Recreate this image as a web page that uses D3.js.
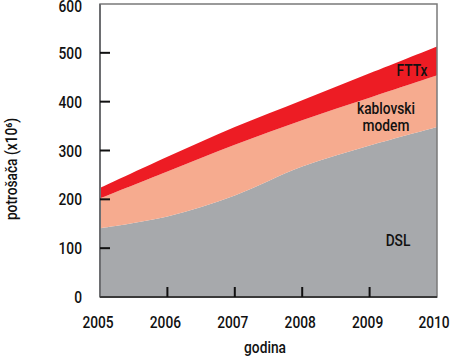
<!DOCTYPE html>
<html><head><meta charset="utf-8">
<script src="https://cdn.jsdelivr.net/npm/d3@7"></script>
<style>
body{margin:0;background:#fff;}
text{font-family:Roboto,"Liberation Sans",Arial,sans-serif;font-weight:500;fill:#111;}
</style></head>
<body><svg id="c" width="450" height="357"></svg>
<script>
const years = [2005, 2006, 2007, 2008, 2009, 2010];
const dsl = [141, 165, 208, 267, 310, 348];
const cable = [61, 92, 104, 95, 98, 106];
const fttx = [21, 30, 36, 41, 50, 59];
const seriesNames = ["DSL", "kablovski modem", "FTTx"];
const colors = ["#a7a9ac", "#f6ab8f", "#ed1c24"];
const yTicks = [0, 100, 200, 300, 400, 500, 600];
const xTicks = [2005, 2006, 2007, 2008, 2009, 2010];

const svg = d3.select("#c");
const L = 100, R = 437, T = 4, B = 297;
const SX = 0.86, FS = 16;
const x = d3.scaleLinear().domain([2005, 2010]).range([L, R]);
const y = d3.scaleLinear().domain([0, 600]).range([B, T]);

function txt(px, py, s, anchor, rot) {
  const g = svg.append("g").attr("transform", `translate(${px},${py})` + (rot ? ` rotate(${rot})` : "") + ` scale(${SX},1)`);
  return g.append("text").attr("text-anchor", anchor || "middle").attr("font-size", FS).text(s);
}

const rows = years.map((yr, i) => ({year: yr, DSL: dsl[i], "kablovski modem": cable[i], FTTx: fttx[i]}));
const stack = d3.stack().keys(seriesNames)(rows);
const area = d3.area().x(d => x(d.data.year)).y0(d => y(d[0])).y1(d => y(d[1])).curve(d3.curveCatmullRom.alpha(0.5));

svg.append("g").selectAll("path").data(stack).join("path")
  .attr("d", area).attr("fill", (d, i) => colors[i]);

// frame
svg.append("rect").attr("x", L).attr("y", T).attr("width", R - L).attr("height", B - T)
  .attr("fill", "none").attr("stroke", "#7a7a7a").attr("stroke-width", 1.5);
svg.append("line").attr("x1", L).attr("x2", L).attr("y1", T).attr("y2", B).attr("stroke", "#6d6e71").attr("stroke-width", 2);
svg.append("line").attr("x1", L).attr("x2", R).attr("y1", B).attr("y2", B).attr("stroke", "#3a3a3a").attr("stroke-width", 2);

// ticks
svg.append("g").selectAll("line").data(yTicks.filter(v => v > 0 && v < 600)).join("line")
  .attr("x1", L).attr("x2", L + 10).attr("y1", d => y(d)).attr("y2", d => y(d))
  .attr("stroke", "#111").attr("stroke-width", 2);
svg.append("g").selectAll("line").data(xTicks.filter(v => v > 2005 && v < 2010)).join("line")
  .attr("x1", d => x(d)).attr("x2", d => x(d)).attr("y1", B).attr("y2", B - 10)
  .attr("stroke", "#111").attr("stroke-width", 2);

// tick labels
const fmt = d3.format("d");
yTicks.forEach(v => txt(82, Math.max(y(v) + 6, 12), fmt(v), "end"));
xTicks.forEach(v => txt(x(v) - (v === 2010 ? 3 : 2), 328, fmt(v), "middle"));

// axis titles
txt(265, 353, "godina");
txt(17, 169, "potrošača (x10⁶)", "middle", -90);

// series labels
txt(412, 76, "FTTx");
txt(386, 114, "kablovski");
txt(386, 131, "modem");
txt(398, 246, "DSL");
</script></body></html>
